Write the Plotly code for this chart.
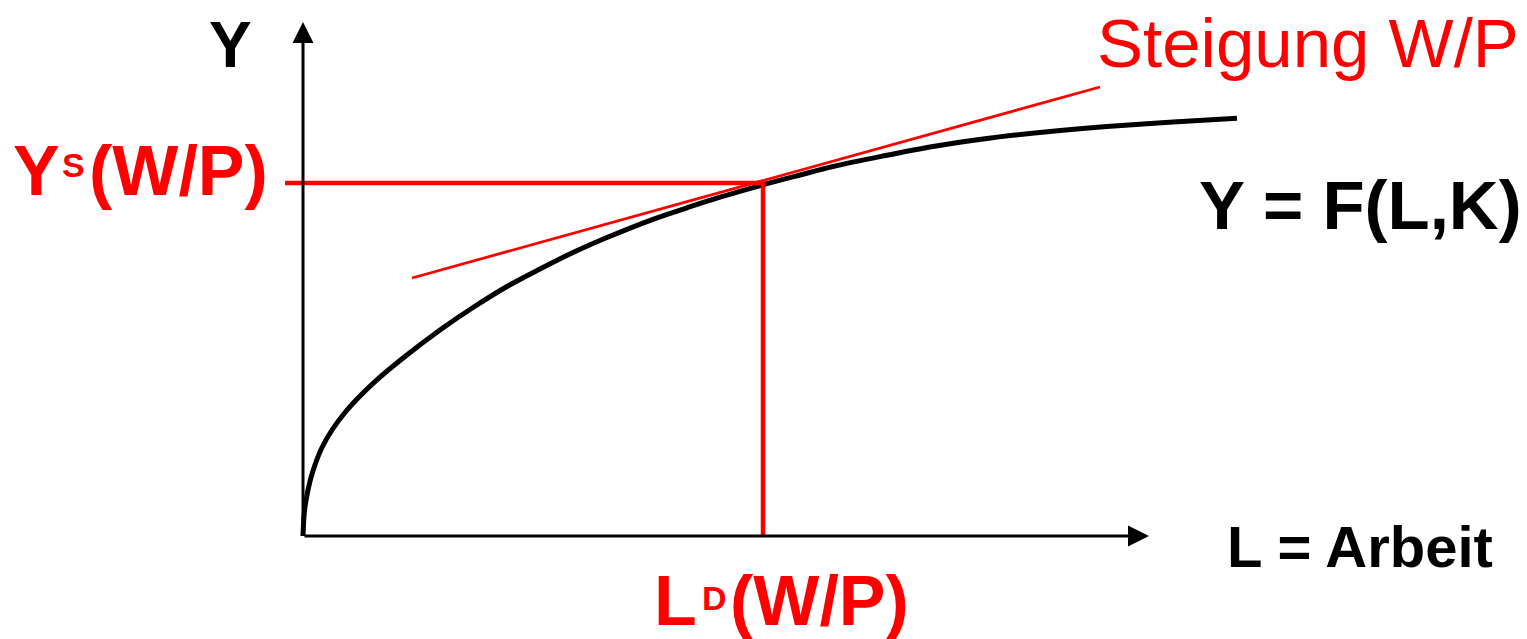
import plotly.graph_objects as go

# ---- data ----
curve_L = [0.00, 0.01, 0.02, 0.04, 0.06, 0.08, 0.13, 0.19, 0.29, 0.42, 0.57, 0.75,
           1.02, 1.37, 1.70, 2.04, 2.37, 2.70, 3.04, 3.50, 3.84, 4.17, 4.60,
           4.97, 5.30, 5.80, 6.30, 6.80, 7.47, 8.04, 8.70, 9.34]
curve_Y = [0.00, 0.20, 0.29, 0.41, 0.505, 0.585, 0.74, 0.885, 1.06, 1.235, 1.40, 1.571,
           1.795, 2.06, 2.285, 2.495, 2.67, 2.835, 2.985, 3.167, 3.282, 3.388, 3.512,
           3.61, 3.695, 3.80, 3.895, 3.97, 4.045, 4.095, 4.14, 4.178]

tangent_L = [1.09, 7.97]
tangent_Y = [2.58, 4.49]

L_star = 4.60      # L^D(W/P)
Y_star = 3.53      # Y^S(W/P)
h_line_start = -0.18

x_axis_end = 8.46
y_axis_end = 5.14

RED = "#FF0000"
BLACK = "#000000"
FONT = "Liberation Sans, Arial, sans-serif"

# pixel -> data helpers for layout placement (1 data unit = 100 px, origin at 303,536)
def X(px):
    return (px - 303) / 100.0

def Y(py):
    return (536 - py) / 100.0

fig = go.Figure()

# production function
fig.add_trace(go.Scatter(x=curve_L, y=curve_Y, mode="lines",
                         line=dict(color=BLACK, width=5, shape="spline", smoothing=1.0),
                         hoverinfo="skip", showlegend=False))
# tangent
fig.add_trace(go.Scatter(x=tangent_L, y=tangent_Y, mode="lines",
                         line=dict(color=RED, width=2.8),
                         hoverinfo="skip", showlegend=False))
# horizontal & vertical red lines
fig.add_trace(go.Scatter(x=[h_line_start, L_star, L_star], y=[Y_star, Y_star, 0],
                         mode="lines", line=dict(color=RED, width=4.5),
                         hoverinfo="skip", showlegend=False))

annotations = []
# axes with arrows
annotations.append(dict(x=0, y=y_axis_end, ax=0, ay=0, xref="x", yref="y", axref="x", ayref="y",
                        showarrow=True, arrowhead=2, arrowsize=1.4, arrowwidth=3,
                        arrowcolor=BLACK, text=""))
annotations.append(dict(x=x_axis_end, y=0, ax=0, ay=0, xref="x", yref="y", axref="x", ayref="y",
                        showarrow=True, arrowhead=2, arrowsize=1.4, arrowwidth=3,
                        arrowcolor=BLACK, text=""))

def txt(text, px, py, size, color, bold=True, xanchor="left"):
    t = f"<b>{text}</b>" if bold else text
    annotations.append(dict(x=X(px), y=Y(py), xref="x", yref="y", text=t, showarrow=False,
                            xanchor=xanchor, yanchor="middle", borderpad=0,
                            font=dict(family=FONT, size=size, color=color)))

txt("Y", 230, 45, 64, BLACK, xanchor="center")
txt("Steigung W/P", 1096, 43, 69, RED, bold=False)
txt("Y = F(L,K)", 1198, 205, 69, BLACK)
txt("L = Arbeit", 1226, 546, 58, BLACK)

txt("Y", 12, 171, 70, RED)
txt("S", 61, 165, 34, RED)
txt("(W/P)", 88, 171, 70, RED)

txt("L", 653, 601, 70, RED)
txt("D", 701, 598, 34, RED)
txt("(W/P)", 729, 601, 70, RED)

fig.update_layout(
    width=1527, height=639,
    margin=dict(l=0, r=0, t=0, b=0),
    paper_bgcolor="white", plot_bgcolor="white",
    xaxis=dict(range=[X(0), X(1527)], visible=False, fixedrange=True),
    yaxis=dict(range=[Y(639), Y(0)], visible=False, fixedrange=True),
    annotations=annotations,
    showlegend=False,
)

fig.write_html("out.html", config={"displayModeBar": False},
               post_script="document.body.style.margin='0';")
